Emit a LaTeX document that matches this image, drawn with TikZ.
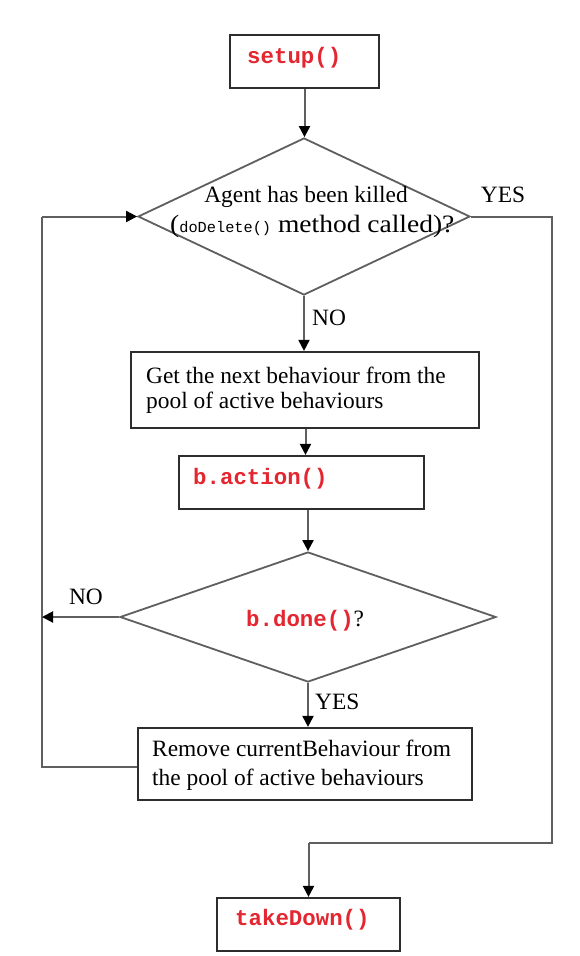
\documentclass[tikz,border=0pt]{standalone}
\usepackage{fontspec}
\setmainfont{Liberation Serif}
\setmonofont{Liberation Mono}
\newfontfamily\widefont[FakeStretch=1.1]{Liberation Serif}
\usetikzlibrary{shapes.geometric,arrows.meta}
\definecolor{codered}{RGB}{228,38,48}
\definecolor{linegray}{RGB}{95,95,95}
\definecolor{boxgray}{RGB}{45,45,45}
\tikzset{
  box/.style={draw=boxgray,line width=2.2pt,rectangle,inner sep=0pt},
  dia/.style={draw=linegray,line width=1.8pt,diamond,inner sep=0pt},
  conn/.style={draw=linegray,line width=2pt},
  arr/.style={conn,-{Triangle[width=11pt,length=11pt,black]}},
  txt/.style={font=\fontsize{23.4}{28}\selectfont,inner sep=0pt},
  code/.style={font=\fontsize{22.4}{26}\selectfont\ttfamily\bfseries,text=codered,inner sep=0pt},
}
\begin{document}
\begin{tikzpicture}[x=1pt,y=-1pt]
\useasboundingbox[fill=white] (0,0) rectangle (579,956);
% boxes
\node[box,minimum width=149pt,minimum height=53pt] (setup) at (304.5,61.5) {};
\node[code,anchor=west] (setupT) at (247,58) {setup()};
\node[dia,minimum width=332pt,minimum height=157pt] (d1) at (304,216.5) {};
\node[txt] (d1a) at (306,197) {Agent has been killed};
\node[inner sep=0pt,anchor=base west] (d1b) at (170,232) {\fontsize{25}{28}\selectfont\widefont(\fontsize{15.3}{18}\selectfont\ttfamily doDelete()\fontsize{25}{28}\selectfont\widefont{} method called)?};
\node[box,minimum width=348pt,minimum height=76pt] (next) at (305,390) {};
\node[txt,anchor=west] (nextA) at (146,375) {Get the next behaviour from the};
\node[txt,anchor=west] (nextB) at (146,403) {pool of active behaviours};
\node[box,minimum width=245pt,minimum height=53pt] (act) at (301.5,482.5) {};
\node[code,anchor=west] (actT) at (193,479) {b.action()};
\node[dia,minimum width=376pt,minimum height=130pt] (d2) at (308,617) {};
\node[anchor=west,inner sep=0pt] (d2T) at (246,621) {\fontsize{22.4}{26}\selectfont\ttfamily\bfseries\textcolor{codered}{b.done()}\fontsize{23.4}{28}\selectfont\rmfamily\mdseries ?};
\node[box,minimum width=334pt,minimum height=72pt] (rm) at (305,764) {};
\node[txt,anchor=west] (rmA) at (152,748) {Remove currentBehaviour from};
\node[txt,anchor=west] (rmB) at (152,780) {the pool of active behaviours};
\node[box,minimum width=183pt,minimum height=53pt] (td) at (308.5,924.5) {};
\node[code,anchor=west] (tdT) at (235,920) {takeDown()};
% labels
\node[txt] (yes1) at (503,195) {YES};
\node[txt,anchor=west] (no1) at (312,318) {NO};
\node[txt] (no2) at (86,597) {NO};
\node[txt,anchor=west] (yes2) at (315,702) {YES};
% coordinates
\coordinate (rtop) at (552,216.5);
\coordinate (rbot) at (552,843);
\coordinate (tdturn) at (308.5,843);
\coordinate (lbot) at (42,767);
\coordinate (ltop) at (42,216.5);
\coordinate (lmid) at (42,617);
% connectors
\draw[arr] (setup.south) -- (setup.south |- d1.north);
\draw[arr] (d1.south) -- (d1.south |- next.north);
\draw[arr] (next.south -| act.north) ++(4,0) coordinate (nx) -- (nx |- act.north);
\draw[arr] (act.south -| d2.north) -- (d2.north);
\draw[arr] (d2.south) -- (d2.south |- rm.north);
\draw[conn] (d1.east) -- (rtop) -- (rbot) -- (tdturn);
\draw[arr] (tdturn) -- (td.north);
\draw[conn] (rm.west |- lbot) -- (lbot) -- (ltop);
\draw[arr] (ltop) -- (d1.west);
\draw[arr] (d2.west) -- (lmid);
\end{tikzpicture}
\end{document}
